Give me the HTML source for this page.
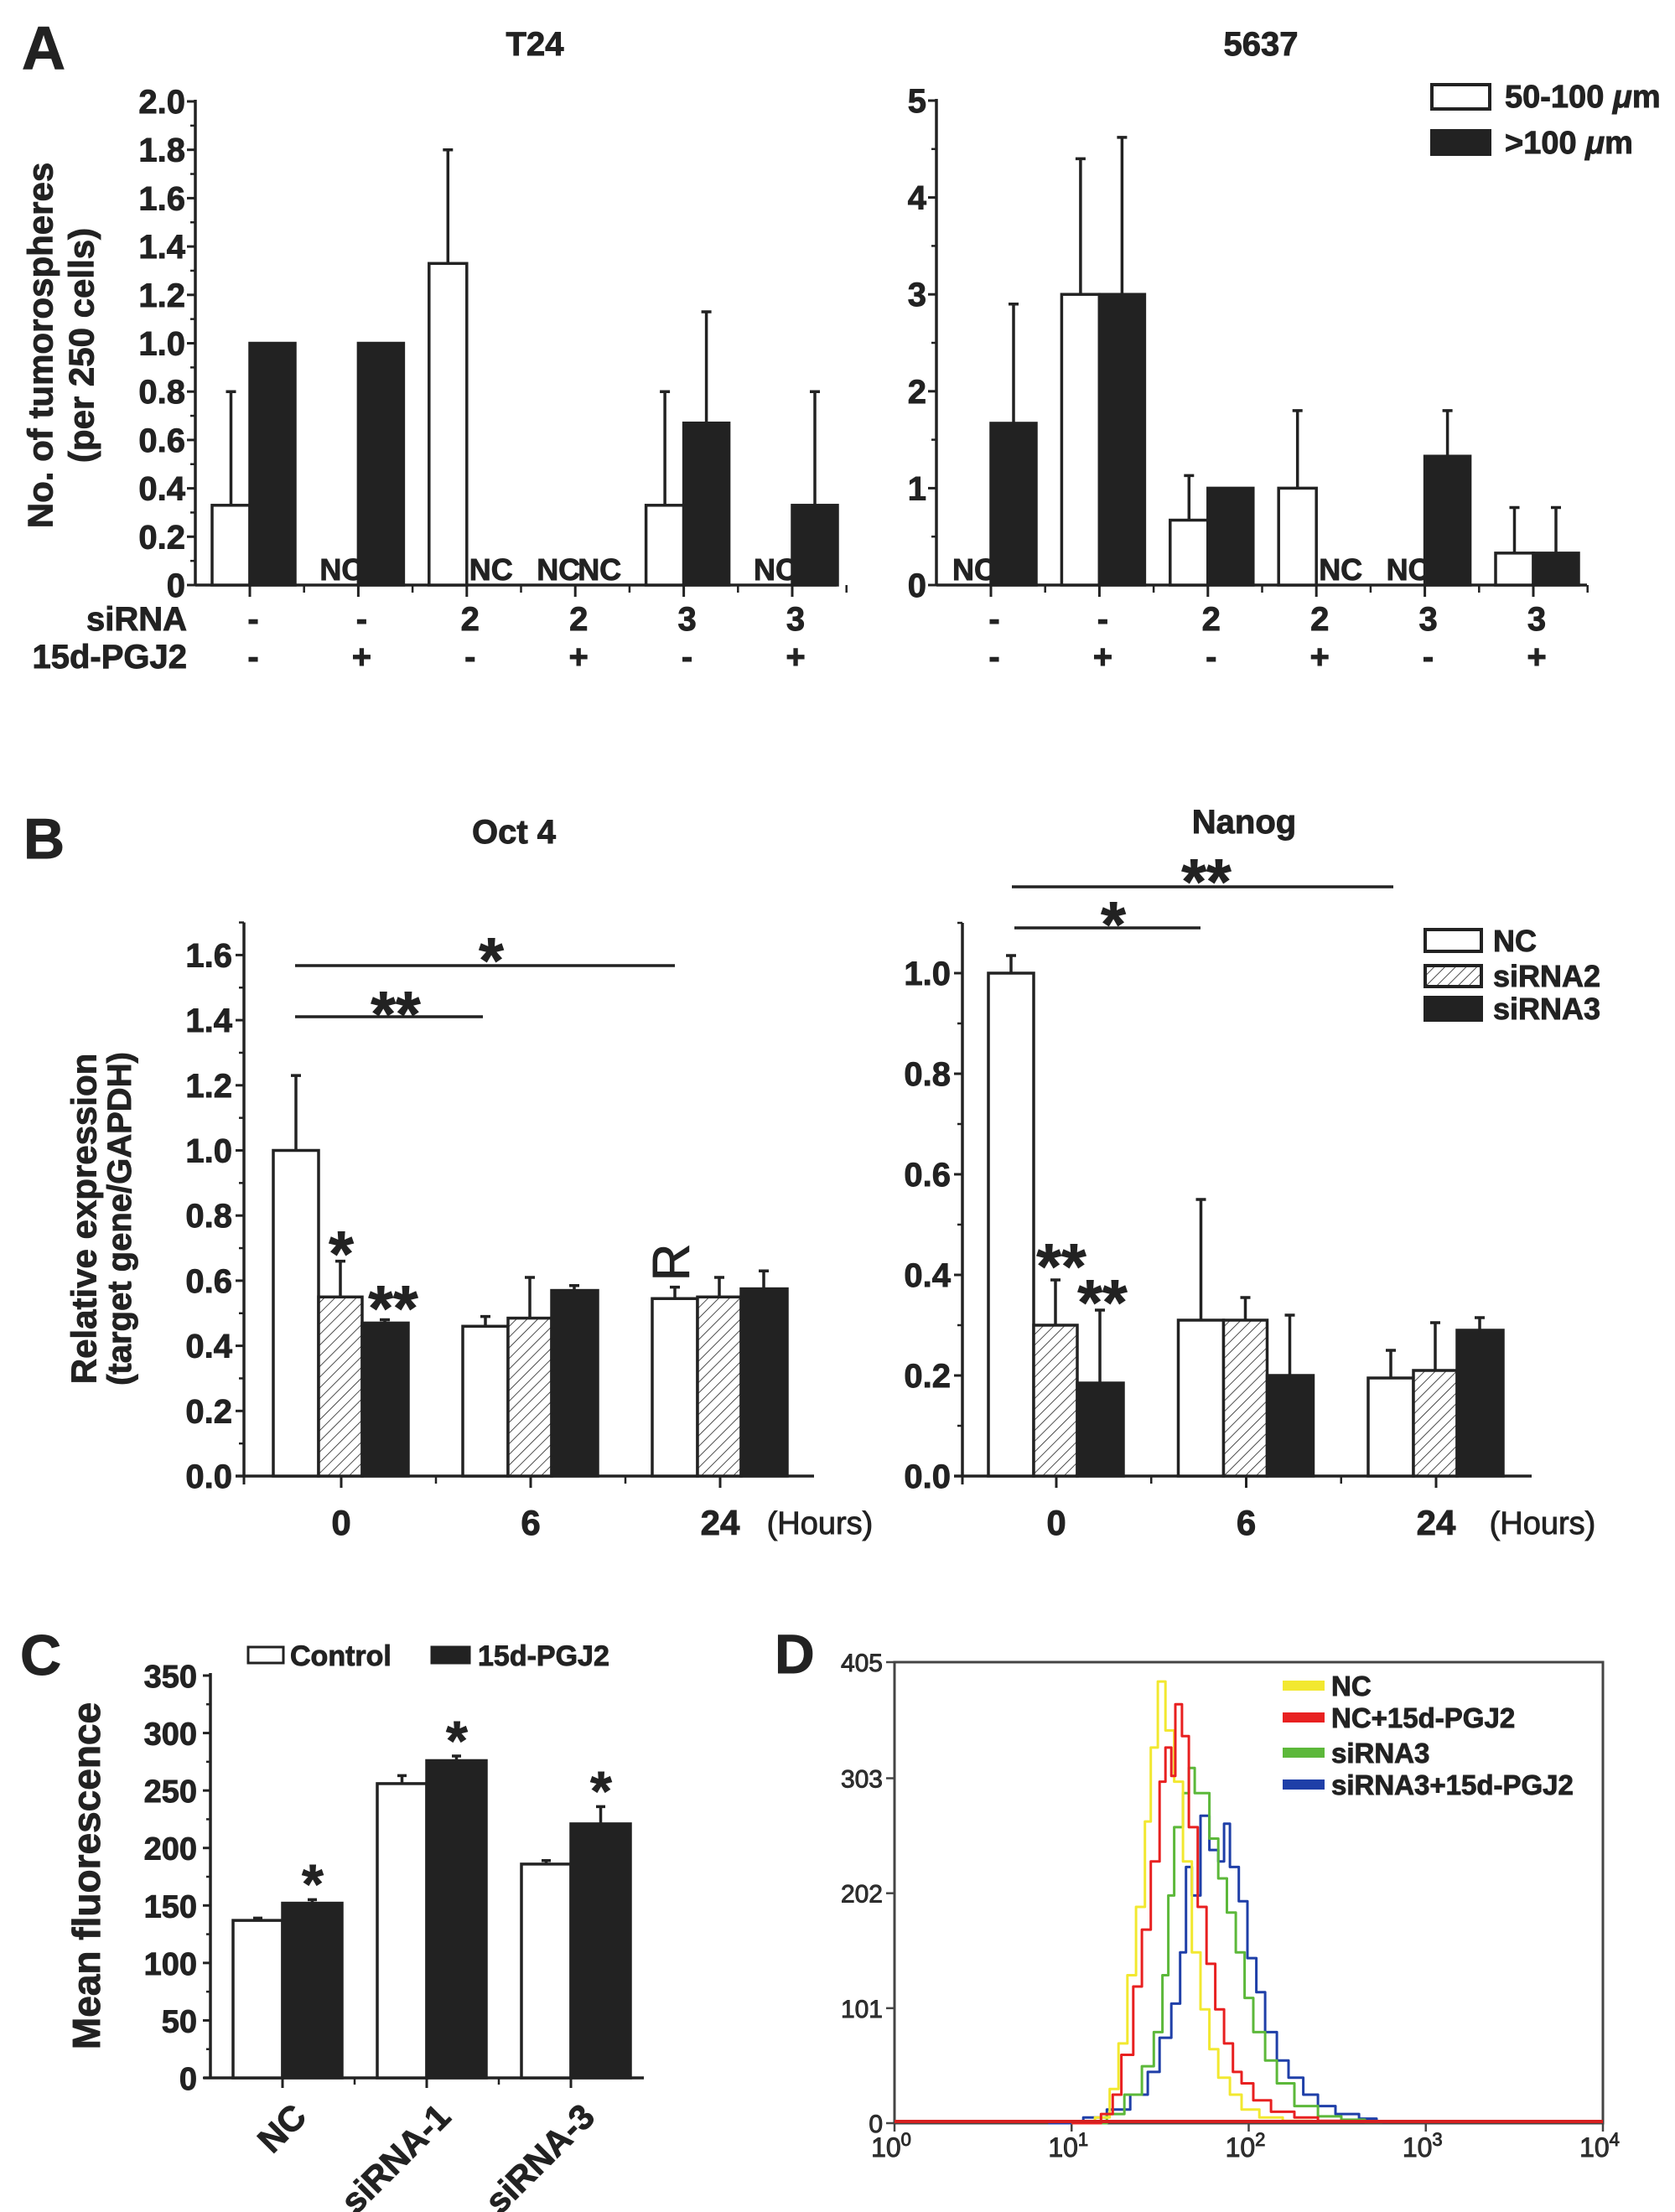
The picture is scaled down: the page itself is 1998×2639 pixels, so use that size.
<!DOCTYPE html>
<html><head><meta charset="utf-8">
<style>
html,body{margin:0;padding:0;background:#fff;}
svg{display:block;font-family:"Liberation Sans",Arial,sans-serif;font-weight:bold;}
svg text{stroke:#222;stroke-width:0.9px;}
</style></head>
<body>
<svg id="fig" xmlns="http://www.w3.org/2000/svg" width="1998" height="2639" viewBox="0 0 1998 2639">
<defs>
<pattern id="hatch" width="9" height="9" patternUnits="userSpaceOnUse" patternTransform="rotate(45)">
<rect width="9" height="9" fill="#fff"/>
<line x1="0" y1="0" x2="0" y2="9" stroke="#222" stroke-width="1.6"/>
</pattern>
</defs>
<rect x="0" y="0" width="1998" height="2639" fill="#fff"/>

<!-- Panel A static text -->
<text x="26" y="82" font-size="72" fill="#222">A</text>
<text x="638" y="66" font-size="40" text-anchor="middle" fill="#222">T24</text>
<text x="1504" y="66" font-size="40" text-anchor="middle" fill="#222">5637</text>
<text transform="translate(48,412) rotate(-90)" dy="0.35em" text-anchor="middle" font-size="42" fill="#222">No. of tumorospheres</text>
<text transform="translate(97,412) rotate(-90)" dy="0.35em" text-anchor="middle" font-size="42" fill="#222">(per 250 cells)</text>
<text x="223" y="752" font-size="40" text-anchor="end" fill="#222">siRNA</text>
<text x="223" y="797" font-size="40" text-anchor="end" fill="#222">15d-PGJ2</text>
<rect x="1708" y="101" width="69" height="29" fill="#fff" stroke="#222" stroke-width="4"/>
<text x="1795" y="128" font-size="38" fill="#222">50-100 <tspan font-style="italic">μ</tspan>m</text>
<rect x="1708" y="156" width="69" height="28" fill="#222" stroke="#222" stroke-width="4"/>
<text x="1795" y="183" font-size="38" fill="#222">&gt;100 <tspan font-style="italic">μ</tspan>m</text>

<!-- Panel B static text -->
<text x="28" y="1024" font-size="68" fill="#222">B</text>
<text x="613" y="1006" font-size="40" text-anchor="middle" fill="#222">Oct 4</text>
<text x="1484" y="994" font-size="40" text-anchor="middle" fill="#222">Nanog</text>
<text transform="translate(100,1454) rotate(-90)" dy="0.35em" text-anchor="middle" font-size="42" fill="#222">Relative expression</text>
<text transform="translate(142,1454) rotate(-90)" dy="0.35em" text-anchor="middle" font-size="40" fill="#222">(target gene/GAPDH)</text>
<text x="978" y="1830" font-size="38" font-weight="normal" text-anchor="middle" fill="#222">(Hours)</text>
<text x="1840" y="1830" font-size="38" font-weight="normal" text-anchor="middle" fill="#222">(Hours)</text>
<rect x="1700" y="1109" width="67" height="26" fill="#fff" stroke="#222" stroke-width="4"/>
<text x="1781" y="1135" font-size="36" fill="#222">NC</text>
<rect x="1700" y="1152" width="67" height="25" fill="url(#hatch)" stroke="#222" stroke-width="4"/>
<text x="1781" y="1177" font-size="36" fill="#222">siRNA2</text>
<rect x="1700" y="1190" width="67" height="27" fill="#222" stroke="#222" stroke-width="4"/>
<text x="1781" y="1216" font-size="36" fill="#222">siRNA3</text>

<!-- Panel C static text -->
<text x="24" y="1998" font-size="68" fill="#222">C</text>
<rect x="296" y="1965" width="42" height="19" fill="#fff" stroke="#222" stroke-width="3"/>
<text x="346" y="1987" font-size="34" fill="#222">Control</text>
<rect x="515" y="1965" width="45" height="19" fill="#222" stroke="#222" stroke-width="3"/>
<text x="570" y="1987" font-size="34" fill="#222">15d-PGJ2</text>
<text transform="translate(103,2238) rotate(-90)" dy="0.35em" text-anchor="middle" font-size="46" fill="#222">Mean fluorescence</text>

<!-- Panel D static text -->
<text x="924" y="1996" font-size="66" fill="#222">D</text>

<script>
// ---------------- DATA ----------------
// Panel A
const aSirna = ['-', '-', '2', '2', '3', '3'];
const aPgj2 = ['-', '+', '-', '+', '-', '+'];
const t24Small = [0.33, 0, 1.33, 0, 0.33, 0];
const t24SmallErr = [0.80, null, 1.80, null, 0.80, null];
const t24Large = [1.0, 1.0, 0, 0, 0.67, 0.33];
const t24LargeErr = [null, null, null, null, 1.13, 0.80];
const t24Ticks = ['0', '0.2', '0.4', '0.6', '0.8', '1.0', '1.2', '1.4', '1.6', '1.8', '2.0'];
const c5637Small = [0, 3.0, 0.67, 1.0, 0, 0.33];
const c5637SmallErr = [null, 4.40, 1.13, 1.80, null, 0.80];
const c5637Large = [1.67, 3.0, 1.0, 0, 1.33, 0.33];
const c5637LargeErr = [2.90, 4.62, null, null, 1.80, 0.80];
const c5637Ticks = ['0', '1', '2', '3', '4', '5'];
// Panel B
const bHours = ['0', '6', '24'];
const octNC = [1.0, 0.46, 0.545];
const octNCErr = [1.23, 0.49, 0.58];
const octS2 = [0.55, 0.485, 0.55];
const octS2Err = [0.66, 0.61, 0.61];
const octS3 = [0.47, 0.57, 0.575];
const octS3Err = [0.48, 0.585, 0.63];
const octTicks = ['0.0', '0.2', '0.4', '0.6', '0.8', '1.0', '1.2', '1.4', '1.6'];
const nanNC = [1.0, 0.31, 0.195];
const nanNCErr = [1.035, 0.55, 0.25];
const nanS2 = [0.30, 0.31, 0.21];
const nanS2Err = [0.39, 0.355, 0.305];
const nanS3 = [0.185, 0.20, 0.29];
const nanS3Err = [0.33, 0.32, 0.315];
const nanTicks = ['0.0', '0.2', '0.4', '0.6', '0.8', '1.0'];
// Panel C
const cCats = ['NC', 'siRNA-1', 'siRNA-3'];
const cControl = [137, 256, 186];
const cControlErr = [139, 263, 189];
const cTreated = [152, 276, 221];
const cTreatedErr = [155, 280, 236];
const cTicks = ['0', '50', '100', '150', '200', '250', '300', '350'];
// Panel D (x = log10 intensity, y = counts)
const dTicksY = ['0', '101', '202', '303', '405'];
const dNCx = [1.0, 1.132, 1.215, 1.265, 1.315, 1.364, 1.414, 1.447, 1.487, 1.530, 1.579, 1.629, 1.679, 1.728, 1.778, 1.828, 1.894, 1.960, 2.060, 2.192, 2.358];
const dNCy = [0, 5, 30, 70, 130, 190, 265, 330, 388, 345, 300, 230, 150, 100, 65, 40, 25, 12, 5, 2, 0];
const dNCPx = [1.0, 1.166, 1.232, 1.281, 1.348, 1.397, 1.447, 1.497, 1.530, 1.563, 1.586, 1.623, 1.662, 1.712, 1.762, 1.811, 1.861, 1.911, 1.960, 2.026, 2.126, 2.258, 2.391, 2.523];
const dNCPy = [0, 8, 25, 60, 120, 170, 230, 300, 330, 305, 368, 340, 260, 190, 140, 100, 70, 45, 35, 20, 10, 5, 2, 0];
const dS3x = [1.033, 1.199, 1.298, 1.397, 1.464, 1.513, 1.546, 1.579, 1.629, 1.662, 1.695, 1.735, 1.778, 1.828, 1.877, 1.927, 1.977, 2.026, 2.093, 2.159, 2.258, 2.391, 2.523, 2.656, 2.755];
const dS3y = [0, 8, 25, 50, 80, 130, 200, 260, 290, 312, 290, 290, 250, 215, 185, 150, 110, 80, 55, 35, 15, 6, 3, 1, 0];
const dS3Px = [0.868, 1.066, 1.199, 1.331, 1.430, 1.497, 1.563, 1.613, 1.646, 1.679, 1.728, 1.778, 1.828, 1.861, 1.894, 1.944, 1.993, 2.043, 2.093, 2.159, 2.225, 2.308, 2.391, 2.490, 2.623, 2.722, 2.788];
const dS3Py = [0, 5, 12, 25, 45, 75, 105, 150, 225, 200, 270, 240, 230, 263, 225, 195, 145, 115, 80, 55, 40, 25, 15, 8, 4, 1, 0];

// ---------------- HELPERS ----------------
const NS = 'http://www.w3.org/2000/svg';
const svg = document.getElementById('fig');
const INK = '#222';
function mk(tag, attrs) {
  const e = document.createElementNS(NS, tag);
  for (const k in attrs) e.setAttribute(k, attrs[k]);
  svg.appendChild(e);
  return e;
}
function txt(s, attrs) { const e = mk('text', attrs); e.textContent = s; return e; }
function line(x1, y1, x2, y2, w, c) {
  return mk('line', { x1: x1, y1: y1, x2: x2, y2: y2, stroke: c || INK, 'stroke-width': w || 3 });
}
function bar(x, w, yTop, yBase, fill, name) {
  const r = mk('rect', { x: x, y: Math.min(yTop, yBase), width: w, height: Math.abs(yBase - yTop), fill: fill, stroke: INK, 'stroke-width': 3.5 });
  
  
  return r;
}
function errBar(cx, yTop, yErr, capW, name) {
  const g = mk('path', { d: 'M' + cx + ' ' + yTop + 'V' + yErr + 'M' + (cx - capW / 2) + ' ' + yErr + 'H' + (cx + capW / 2), stroke: INK, 'stroke-width': 3.5, fill: 'none' });
  
  
  return g;
}
function star(s, cx, cy, fs, name) {
  const t = txt(s, { x: cx, y: cy + 0.58 * fs, 'font-size': fs, 'text-anchor': 'middle', fill: INK });
  
  
  return t;
}

// ---------------- PANEL A ----------------
function panelA(opts) {
  const { x0, xEnd, y0, yTopPix, vmax, small, smallErr, large, largeErr, ticks, minorStep, key } = opts;
  const yS = v => y0 - v * (y0 - yTopPix) / vmax;
  const xC = i => x0 + 65 + i * 129.4;
  const ya = line(x0, y0, x0, yTopPix - 2, 3.5);
  
  
  const xa = line(x0, y0, xEnd, y0, 3.5);
  
  
  for (let i = 0; i < ticks.length; i++) {
    const v = parseFloat(ticks[i]);
    const y = yS(v);
    line(x0 - 10, y, x0, y, 3);
    const t = txt(ticks[i], { x: x0 - 12, y: y + 14, 'font-size': 40, 'text-anchor': 'end', fill: INK });
    
    
  }
  for (let v = minorStep; v < vmax; v += minorStep * 2) { line(x0 - 6, yS(v), x0, yS(v), 2.5); }
  for (let i = 0; i < small.length; i++) {
    line(xC(i), y0, xC(i), y0 + 14, 3);
    line(xC(i) + 64.7, y0, xC(i) + 64.7, y0 + 9, 2.5);
  }
  for (let i = 0; i < small.length; i++) {
    const c = xC(i);
    if (small[i] > 0) {
      bar(c - 45, 45, yS(small[i]), y0, '#fff', key + '-bar-small-' + i);
    } else {
      const n = txt('NC', { x: c - 46, y: y0 - 6, 'font-size': 36, fill: INK });
      
      
    }
    if (smallErr[i] !== null) errBar(c - 22.5, yS(small[i]), yS(smallErr[i]), 12, key + '-err-small-' + i);
    if (large[i] > 0) {
      bar(c, 54, yS(large[i]), y0, INK, key + '-bar-large-' + i);
    } else {
      const n = txt('NC', { x: c + 3, y: y0 - 6, 'font-size': 36, fill: INK });
      
      
    }
    if (largeErr[i] !== null) errBar(c + 27, yS(large[i]), yS(largeErr[i]), 12, key + '-err-large-' + i);
    const r1 = txt(aSirna[i], { x: c + 4, y: 752, 'font-size': 40, 'text-anchor': 'middle', fill: INK });
    
    
    const r2 = txt(aPgj2[i], { x: c + 4, y: 797, 'font-size': 40, 'text-anchor': 'middle', fill: INK });
    
    
  }
}
panelA({ x0: 233, xEnd: 998, y0: 698, yTopPix: 121, vmax: 2.0, small: t24Small, smallErr: t24SmallErr, large: t24Large, largeErr: t24LargeErr, ticks: t24Ticks, minorStep: 0.1, key: 't24' });
panelA({ x0: 1117, xEnd: 1893, y0: 698, yTopPix: 120, vmax: 5, small: c5637Small, smallErr: c5637SmallErr, large: c5637Large, largeErr: c5637LargeErr, ticks: c5637Ticks, minorStep: 0.5, key: 'c5637' });

// ---------------- PANEL B ----------------
function panelB(opts) {
  const { x0, xEnd, y0, perUnit, topV, c0, step, nc, ncE, s2, s2E, s3, s3E, ticks, key } = opts;
  const yS = v => y0 - v * perUnit;
  const xC = i => c0 + i * step;
  const ya = line(x0, y0, x0, yS(topV), 3.5);
  
  
  const xa = line(x0 - 10, y0, xEnd, y0, 3.5);
  
  
  for (let i = 0; i < ticks.length; i++) {
    const y = yS(parseFloat(ticks[i]));
    line(x0 - 10, y, x0, y, 3);
    const t = txt(ticks[i], { x: x0 - 14, y: y + 14, 'font-size': 40, 'text-anchor': 'end', fill: INK });
    
    
  }
  for (let v = 0.1; v < topV; v += 0.2) line(x0 - 6, yS(v), x0, yS(v), 2.5);
  line(x0, y0, x0, y0 + 10, 3);
  for (let i = 0; i < nc.length; i++) {
    const c = xC(i);
    line(c, y0, c, y0 + 14, 3);
    if (i < nc.length - 1) line(c + step / 2, y0, c + step / 2, y0 + 9, 2.5);
    bar(c - 81, 54, yS(nc[i]), y0, '#fff', key + '-bar-nc-' + i);
    errBar(c - 54, yS(nc[i]), yS(ncE[i]), 12, key + '-err-nc-' + i);
    bar(c - 27, 52, yS(s2[i]), y0, 'url(#hatch)', key + '-bar-sirna2-' + i);
    errBar(c - 1, yS(s2[i]), yS(s2E[i]), 12, key + '-err-sirna2-' + i);
    bar(c + 25, 55, yS(s3[i]), y0, INK, key + '-bar-sirna3-' + i);
    errBar(c + 52, yS(s3[i]), yS(s3E[i]), 12, key + '-err-sirna3-' + i);
    const t = txt(bHours[i], { x: c, y: y0 + 70, 'font-size': 42, 'text-anchor': 'middle', fill: INK });
    
    
  }
}
panelB({ x0: 291, xEnd: 971, y0: 1761, perUnit: 388.5, topV: 1.7, c0: 407, step: 226, nc: octNC, ncE: octNCErr, s2: octS2, s2E: octS2Err, s3: octS3, s3E: octS3Err, ticks: octTicks, key: 'oct4' });
panelB({ x0: 1148, xEnd: 1827, y0: 1761, perUnit: 600, topV: 1.1, c0: 1260, step: 226.5, nc: nanNC, ncE: nanNCErr, s2: nanS2, s2E: nanS2Err, s3: nanS3, s3E: nanS3Err, ticks: nanTicks, key: 'nanog' });

let sl;
sl = line(352, 1152, 805, 1152, 3.5);


sl = line(352, 1213, 576, 1213, 3.5);


star('*', 586, 1128, 76, 'oct4-sig-star-0-24');
star('**', 472, 1192, 76, 'oct4-sig-star-0-6');
star('*', 407, 1478, 76, 'oct4-star-sirna2');
star('**', 469, 1543, 76, 'oct4-star-sirna3');
const rMark = txt('R', { transform: 'translate(822,1506) rotate(-90)', 'text-anchor': 'middle', 'font-size': 62, 'font-weight': 'normal', fill: INK });


sl = line(1207, 1058, 1662, 1058, 3.5);


sl = line(1210, 1107, 1432, 1107, 3.5);


star('**', 1439, 1034, 76, 'nanog-sig-star-0-24');
star('*', 1328, 1085, 76, 'nanog-sig-star-0-6');
star('**', 1266, 1493, 76, 'nanog-star-sirna2');
star('**', 1315, 1536, 76, 'nanog-star-sirna3');

// ---------------- PANEL C ----------------
(function () {
  const x0 = 251, xEnd = 768, y0 = 2479, yTop = 1999, vmax = 350;
  const yS = v => y0 - v * (y0 - yTop) / vmax;
  const xC = i => 337 + i * 172;
  const ya = line(x0, y0, x0, yTop - 3, 3.5);
  
  
  const xa = line(x0 - 8, y0, xEnd, y0, 3.5);
  
  
  for (let i = 0; i < cTicks.length; i++) {
    const y = yS(parseFloat(cTicks[i]));
    line(x0 - 9, y, x0, y, 3);
    const t = txt(cTicks[i], { x: x0 - 16, y: y + 14, 'font-size': 38, 'text-anchor': 'end', fill: INK });
    
    
  }
  for (let v = 25; v < vmax; v += 50) line(x0 - 5, yS(v), x0, yS(v), 2.5);
  for (let i = 0; i < cCats.length; i++) {
    const c = xC(i);
    line(c, y0, c, y0 + 12, 3);
    if (i < cCats.length - 1) line(c + 86, y0, c + 86, y0 + 8, 2.5);
    bar(c - 59, 59, yS(cControl[i]), y0, '#fff', 'c-bar-control-' + i);
    errBar(c - 29.5, yS(cControl[i]), yS(cControlErr[i]), 11, 'c-err-control-' + i);
    bar(c, 71, yS(cTreated[i]), y0, INK, 'c-bar-15d-pgj2-' + i);
    errBar(c + 35.5, yS(cTreated[i]), yS(cTreatedErr[i]), 11, 'c-err-15d-pgj2-' + i);
    star('*', c + 36, yS(cTreatedErr[i]) - 34, 66, 'c-star-' + i);
    const t = txt(cCats[i], { transform: 'translate(' + (c + 10) + ',' + (y0 + 28) + ') rotate(-45)', 'text-anchor': 'end', dy: '0.7em', 'font-size': 42, fill: INK });
    
    
  }
})();

// ---------------- PANEL D ----------------
(function () {
  const xL = 1067, xR = 1912, yB = 2533, yT = 1983;
  const xS = l => xL + l * (xR - xL) / 4;
  const yS = c => yB - c * (yB - yT) / 405;
  const frame = mk('rect', { x: xL, y: yT, width: xR - xL, height: yB - yT, fill: 'none', stroke: '#444', 'stroke-width': 3 });
  
  
  for (let i = 0; i < dTicksY.length; i++) {
    const y = yS(parseFloat(dTicksY[i]));
    line(xL - 10, y, xL, y, 2.5, '#444');
    const t = txt(dTicksY[i], { x: xL - 14, y: y + 11, 'font-size': 30, 'font-weight': 'normal', 'text-anchor': 'end', fill: '#333', 'stroke-width': 0.5 });
    
    
  }
  for (let d = 0; d <= 4; d++) {
    const x = xS(d);
    line(x, yB, x, yB + 10, 2.5, '#444');
    const t = txt('', { x: x - 4, y: yB + 40, 'font-size': 32, 'font-weight': 'normal', 'text-anchor': 'middle', fill: '#333', 'stroke-width': 0.5 });
    t.textContent = '10';
    const sup = document.createElementNS(NS, 'tspan');
    sup.setAttribute('dy', '-13');
    sup.setAttribute('font-size', '22');
    sup.textContent = String(d);
    t.appendChild(sup);
    
    
  }
  function stairs(xs, ys, color, name) {
    let d = 'M' + xS(xs[0]).toFixed(1) + ' ' + yS(ys[0]).toFixed(1);
    for (let i = 1; i < xs.length; i++) {
      d += 'H' + xS(xs[i]).toFixed(1) + 'V' + yS(ys[i]).toFixed(1);
    }
    const p = mk('path', { d: d, fill: 'none', stroke: color, 'stroke-width': 3, 'stroke-linejoin': 'round' });
    
    
    return p;
  }
  stairs(dS3Px, dS3Py, '#1f3fa8', 'd-histogram-sirna3-15d-pgj2');
  stairs(dS3x, dS3y, '#5cb83a', 'd-histogram-sirna3');
  stairs(dNCx, dNCy, '#f2e830', 'd-histogram-nc');
  stairs(dNCPx, dNCPy, '#e82020', 'd-histogram-nc-15d-pgj2');
  const base = line(xL, yB - 2, xR, yB - 2, 4, '#d62020');
  
  
  const legItems = [['NC', '#f2e830', 2011], ['NC+15d-PGJ2', '#e82020', 2049], ['siRNA3', '#5cb83a', 2091], ['siRNA3+15d-PGJ2', '#1f3fa8', 2129]];
  for (let i = 0; i < legItems.length; i++) {
    const sw = line(1530, legItems[i][2], 1580, legItems[i][2], 12, legItems[i][1]);
    
    
    const t = txt(legItems[i][0], { x: 1588, y: legItems[i][2] + 12, 'font-size': 33, fill: INK });
    
    
  }
})();
</script>
</svg>
</body></html>
